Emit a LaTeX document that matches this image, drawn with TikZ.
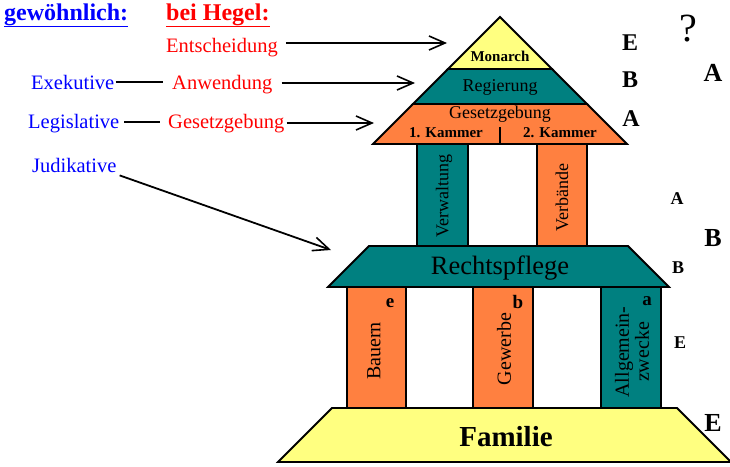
\documentclass[tikz,border=0pt]{standalone}
\usepackage{fontspec}
\setmainfont{Liberation Serif}
\usetikzlibrary{arrows.meta}
\definecolor{hteal}{RGB}{0,128,128}
\definecolor{horange}{RGB}{255,128,64}
\definecolor{hyellow}{RGB}{255,255,128}
\definecolor{hblue}{RGB}{0,0,255}
\definecolor{hred}{RGB}{255,0,0}
\tikzset{
  shapeline/.style={draw=black,line width=1.8pt,line join=miter},
  arr/.style={line width=1.8pt,-{Straight Barb[length=16pt,width=14pt,line width=1.6pt]}},
  plain/.style={line width=1.8pt},
  txt/.style={inner sep=0pt,font=\fontsize{20.5}{20.5}\selectfont},
  bluetxt/.style={txt,text=hblue,anchor=base west},
  redtxt/.style={txt,text=hred,anchor=base west},
  title/.style={inner sep=0pt,anchor=base west,font=\fontsize{24}{24}\selectfont\bfseries},
  lbl/.style={inner sep=0pt,font=\fontsize{18}{18}\selectfont},
  vlbl/.style={inner sep=0pt,rotate=90,font=\fontsize{20}{20}\selectfont,align=center},
  pillarletter/.style={inner sep=0pt,font=\fontsize{19}{19}\selectfont\bfseries},
  smallletter/.style={inner sep=0pt,font=\fontsize{18}{18}\selectfont\bfseries},
  midletter/.style={inner sep=0pt,font=\fontsize{24}{24}\selectfont\bfseries},
  bigletter/.style={inner sep=0pt,font=\fontsize{26}{26}\selectfont\bfseries},
}
\begin{document}
\begin{tikzpicture}[x=1pt,y=-1pt]
\useasboundingbox (0,0) rectangle (730,466);
\fill[white] (0,0) rectangle (730,466);

% lower pillars
\filldraw[shapeline,fill=horange] (347,287) rectangle (406,408);
\filldraw[shapeline,fill=horange] (473,287) rectangle (533,408);
\filldraw[shapeline,fill=hteal] (601,287) rectangle (661,408);
% upper pillars
\filldraw[shapeline,fill=hteal] (417,144) rectangle (468,246);
\filldraw[shapeline,fill=horange] (537,144) rectangle (587,246);
% Familie
\filldraw[shapeline,fill=hyellow] (332,408) -- (677,408) -- (731,462) -- (278,462) -- cycle;
% Rechtspflege
\filldraw[shapeline,fill=hteal] (369,246) -- (628,246) -- (669,287) -- (328,287) -- cycle;
% pyramid
\filldraw[shapeline,fill=horange] (413,104) -- (587,104) -- (627,144) -- (373,144) -- cycle;
\filldraw[shapeline,fill=hteal] (448,69) -- (552,69) -- (587,104) -- (413,104) -- cycle;
\filldraw[shapeline,fill=hyellow] (500,17) -- (552,69) -- (448,69) -- cycle;
\draw[plain] (500,127) -- (500,144);

% texts in shapes
\node[inner sep=0pt,font=\fontsize{15}{15}\selectfont\bfseries] (monarch) at (500,56) {Monarch};
\node[lbl] (regierung) at (500,87) {Regierung};
\node[lbl] (gesetz) at (500,114) {Gesetzgebung};
\node[inner sep=0pt,font=\fontsize{15}{15}\selectfont\bfseries] (k1) at (446,133) {1. Kammer};
\node[inner sep=0pt,font=\fontsize{15}{15}\selectfont\bfseries] (k2) at (560,133) {2. Kammer};
\node[vlbl,font=\fontsize{18}{18}\selectfont] (verw) at (444,196) {Verwaltung};
\node[vlbl,font=\fontsize{18}{18}\selectfont] (verb) at (562,198) {Verbände};
\node[inner sep=0pt,font=\fontsize{26.5}{26.5}\selectfont] (recht) at (500,268) {Rechtspflege};
\node[vlbl] (bauern) at (374,351) {Bauern};
\node[vlbl] (gewerbe) at (504,349) {Gewerbe};
\node[vlbl] (allg) at (632,352) {Allgemein-\\zwecke};
\node[pillarletter] (le) at (390,303) {e};
\node[pillarletter] (lb) at (518,302) {b};
\node[pillarletter] (la) at (647,301) {a};
\node[inner sep=0pt,font=\fontsize{29}{29}\selectfont\bfseries] (familie) at (506,437) {Familie};

% right letters
\node[midletter] (rE1) at (630,43) {E};
\node[midletter] (rB1) at (630,80) {B};
\node[midletter] (rA1) at (631,119) {A};
\node[inner sep=0pt,font=\fontsize{40}{40}\selectfont] (q) at (688,29) {?};
\node[bigletter] (rA2) at (713,73) {A};
\node[smallletter] (rA3) at (677,199) {A};
\node[bigletter] (rB2) at (713,238) {B};
\node[smallletter] (rB3) at (678,268) {B};
\node[smallletter] (rE3) at (680,343) {E};
\node[bigletter] (rE2) at (713,423) {E};

% left texts
\node[title,text=hblue] (gew) at (4,20) {\underline{gewöhnlich:}};
\node[title,text=hred] (heg) at (166,20) {\underline{bei Hegel:}};
\node[redtxt] (ent) at (166,52) {Entscheidung};
\node[redtxt] (anw) at (172,89) {Anwendung};
\node[redtxt] (ges) at (168,128) {Gesetzgebung};
\node[bluetxt] (exe) at (31,89) {Exekutive};
\node[bluetxt] (leg) at (28,128) {Legislative};
\node[bluetxt] (jud) at (32,172) {Judikative};

% arrow targets
\coordinate (t1) at (447,43);
\coordinate (t2) at (415,83);
\coordinate (t3) at (374,123);
\coordinate (t4) at (331,250);
\coordinate (exeend) at (163,82);
\coordinate (legend) at (160,122);

\draw[arr,shorten <=8pt] (ent.east |- t1) -- (t1);
\draw[arr,shorten <=9pt] (anw.east |- t2) -- (t2);
\draw[arr,shorten <=2pt] (ges.east |- t3) -- (t3);
\draw[plain,shorten <=1pt] (exe.east |- exeend) -- (exeend);
\draw[plain,shorten <=5pt] (leg.east |- legend) -- (legend);
\draw[arr] ([shift={(3,3)}]jud.south east) -- (t4);
\end{tikzpicture}
\end{document}
